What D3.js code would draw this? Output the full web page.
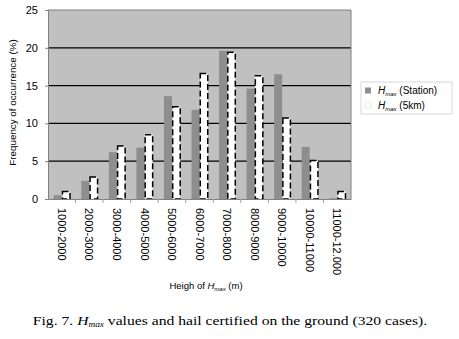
<!DOCTYPE html>
<html>
<head>
<meta charset="UTF-8">
<script src="https://d3js.org/d3.v7.min.js"></script>
<style>
  body { margin: 0; background: #fff; }
  svg text { font-family: "Liberation Sans", Arial, sans-serif; }
</style>
</head>
<body>
<svg id="chart" width="459" height="339"></svg>
<script>
const categories = ["1000-2000", "2000-3000", "3000-4000", "4000-5000", "5000-6000",
  "6000-7000", "7000-8000", "8000-9000", "9000-10000", "10000-11000", "11000-12.000"];
const station = [0.5, 2.4, 6.2, 6.8, 13.6, 11.8, 19.6, 14.6, 16.5, 6.9, 0.1];
const km5 = [1.0, 2.9, 7.0, 8.5, 12.2, 16.6, 19.4, 16.3, 10.7, 5.1, 1.0];
const yTicks = [0, 5, 10, 15, 20, 25];

const svg = d3.select("#chart");
const plotL = 48, plotR = 351, plotT = 10, plotB = 199;

const x = d3.scaleBand().domain(categories).range([plotL, plotR]).paddingInner(0).paddingOuter(0);
const y = d3.scaleLinear().domain([0, 25]).range([plotB, plotT]);
const sub = d3.scaleBand().domain(["station", "km5"]).range([0, 16]);
const subOff = (x.bandwidth() - 16) / 2;

// plot background
svg.append("rect").attr("x", plotL).attr("y", plotT)
  .attr("width", plotR - plotL).attr("height", plotB - plotT)
  .attr("fill", "#c0c0c0");

// grid
svg.append("g").selectAll("line")
  .data(yTicks.filter(d => d > 0 && d < 25))
  .join("line")
  .attr("x1", plotL).attr("x2", plotR)
  .attr("y1", d => y(d)).attr("y2", d => y(d))
  .attr("stroke", "#000").attr("stroke-width", 1.3);

// frame top/right
svg.append("path")
  .attr("d", `M${plotL},${plotT}H${plotR}V${plotB}`)
  .attr("fill", "none").attr("stroke", "#808080").attr("stroke-width", 1);

// bars
const rows = categories.map((c, i) => ({ c, station: station[i], km5: km5[i] }));
svg.append("g").selectAll("rect")
  .data(rows).join("rect")
  .attr("x", d => x(d.c) + subOff + sub("station"))
  .attr("y", d => y(d.station))
  .attr("width", sub.bandwidth())
  .attr("height", d => y(0) - y(d.station))
  .attr("fill", "#8e8e8e");

svg.append("g").selectAll("rect")
  .data(rows).join("rect")
  .attr("x", d => x(d.c) + subOff + sub("km5") + 0.75)
  .attr("y", d => y(d.km5))
  .attr("width", sub.bandwidth() - 0.5)
  .attr("height", d => y(0) - y(d.km5))
  .attr("fill", "#fff")
  .attr("stroke", "#000").attr("stroke-width", 1.5)
  .attr("stroke-dasharray", "6,3");

// y axis
const yAxis = svg.append("g").attr("transform", `translate(${plotL},0)`)
  .call(d3.axisLeft(y).tickValues(yTicks).tickSize(3).tickPadding(7));
yAxis.select(".domain").attr("stroke", "#808080");
yAxis.selectAll(".tick line").attr("stroke", "#808080");
yAxis.selectAll("text").style("font-size", "11px").attr("fill", "#000");

// x axis
const xAxis = svg.append("g").attr("transform", `translate(0,${plotB})`)
  .call(d3.axisBottom(x).tickSize(0).tickFormat(""));
xAxis.select(".domain").attr("stroke", "#808080");
svg.append("g").selectAll("line")
  .data(categories.slice(1)).join("line")
  .attr("x1", d => x(d)).attr("x2", d => x(d))
  .attr("y1", plotB).attr("y2", plotB + 4)
  .attr("stroke", "#a0a0a0");

svg.append("g").selectAll("text")
  .data(categories).join("text")
  .attr("transform", d => `translate(${x(d) + x.bandwidth() / 2},${plotB + 9}) rotate(90)`)
  .attr("dy", "0.35em")
  .style("font-size", "11px")
  .text(d => d);

// axis titles
svg.append("text")
  .attr("transform", `translate(16,${(plotT + plotB) / 2 - 2}) rotate(-90)`)
  .attr("text-anchor", "middle")
  .style("font-size", "9.8px")
  .text("Frequency of occurrence (%)");

const xt = svg.append("text")
  .attr("x", 206).attr("y", 289)
  .attr("text-anchor", "middle")
  .style("font-size", "9.5px");
xt.append("tspan").text("Heigh of ");
xt.append("tspan").style("font-style", "italic").text("H");
xt.append("tspan").style("font-style", "italic").style("font-size", "6px").attr("dy", 2).text("max");
xt.append("tspan").attr("dy", -2).text(" (m)");

// legend
const lg = svg.append("g").attr("transform", "translate(361,82)");
lg.append("rect").attr("width", 91).attr("height", 32)
  .attr("fill", "#fff").attr("stroke", "#d8d8d8");
const legendItems = [
  { label: "(Station)", fill: "#8e8e8e", stroke: "none" },
  { label: "(5km)", fill: "#fff", stroke: "#e8e8e8" }
];
legendItems.forEach((d, i) => {
  const gy = 8.5 + i * 14.5;
  lg.append("rect").attr("x", 4).attr("y", gy - 3).attr("width", 6).attr("height", 6)
    .attr("fill", d.fill).attr("stroke", d.stroke);
  const t = lg.append("text").attr("x", 17).attr("y", gy).attr("dy", "0.35em")
    .style("font-size", "10px");
  t.append("tspan").style("font-style", "italic").text("H");
  t.append("tspan").style("font-style", "italic").style("font-size", "6px").attr("dy", 2).text("max");
  t.append("tspan").attr("dy", -2).text(" " + d.label);
});

// caption (the scanned caption is horizontally wider than plain Times)
const cap = svg.append("text")
  .attr("transform", "translate(230,325) scale(1.16,1)")
  .attr("text-anchor", "middle")
  .style("font-family", "'Liberation Serif', 'Times New Roman', serif")
  .style("font-size", "13.5px");
cap.append("tspan").text("Fig. 7. ");
cap.append("tspan").style("font-style", "italic").text("H");
cap.append("tspan").style("font-style", "italic").style("font-size", "8px").attr("dy", 2).text("max");
cap.append("tspan").attr("dy", -2).text(" values and hail certified on the ground (320 cases).");
</script>
</body>
</html>
